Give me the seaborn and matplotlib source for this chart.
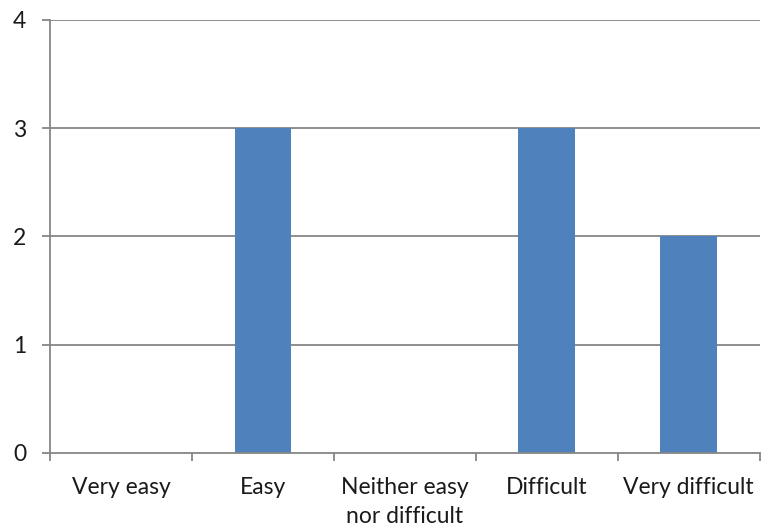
import matplotlib
matplotlib.use("Agg")
import matplotlib.pyplot as plt
import seaborn as sns
import pandas as pd

categories = ["Very easy", "Easy", "Neither easy\nnor difficult", "Difficult", "Very difficult"]
counts = [0, 3, 0, 3, 2]
y_ticks = [0, 1, 2, 3, 4]

sns.set_theme(style="white")
plt.rcParams["font.family"] = ["Lato", "DejaVu Sans"]

df = pd.DataFrame({"category": categories, "count": counts})

fig = plt.figure(figsize=(7.69, 5.32), dpi=100)
ax = fig.add_axes([0.065, 0.1485, 0.923, 0.814])

grid_color = "#868686"
ax.set_axisbelow(True)
for y in y_ticks[1:]:
    ax.axhline(y, color=grid_color, linewidth=1.3, zorder=0)

sns.barplot(data=df, x="category", y="count", color="#4F81BD", saturation=1,
            width=0.4, linewidth=0, ax=ax, zorder=2)

ax.set_ylim(0, 4)
ax.set_xlim(-0.5, len(categories) - 0.5)
ax.set_yticks(y_ticks)
ax.set_yticklabels([str(v) for v in y_ticks])
ax.set_xlabel("")
ax.set_ylabel("")

# category separators as tick marks on the x axis
ax.set_xticks([i - 0.5 for i in range(len(categories) + 1)], minor=True)
ax.set_xticks(range(len(categories)))
ax.set_xticklabels(categories, linespacing=1.5)
ax.tick_params(axis="x", which="major", length=0, pad=17, labelsize=16.5, labelcolor="#1a1a1a")
ax.tick_params(axis="x", which="minor", length=6, width=1.3, color=grid_color, bottom=True)
ax.tick_params(axis="y", length=6, width=1.3, color=grid_color, left=True, pad=11,
               labelsize=16.5, labelcolor="#1a1a1a")

for side in ["top", "right"]:
    ax.spines[side].set_visible(False)
for side in ["left", "bottom"]:
    ax.spines[side].set_color(grid_color)
    ax.spines[side].set_linewidth(1.3)
    ax.spines[side].set_zorder(3)

fig.savefig("out.png", dpi=100, facecolor="white")
